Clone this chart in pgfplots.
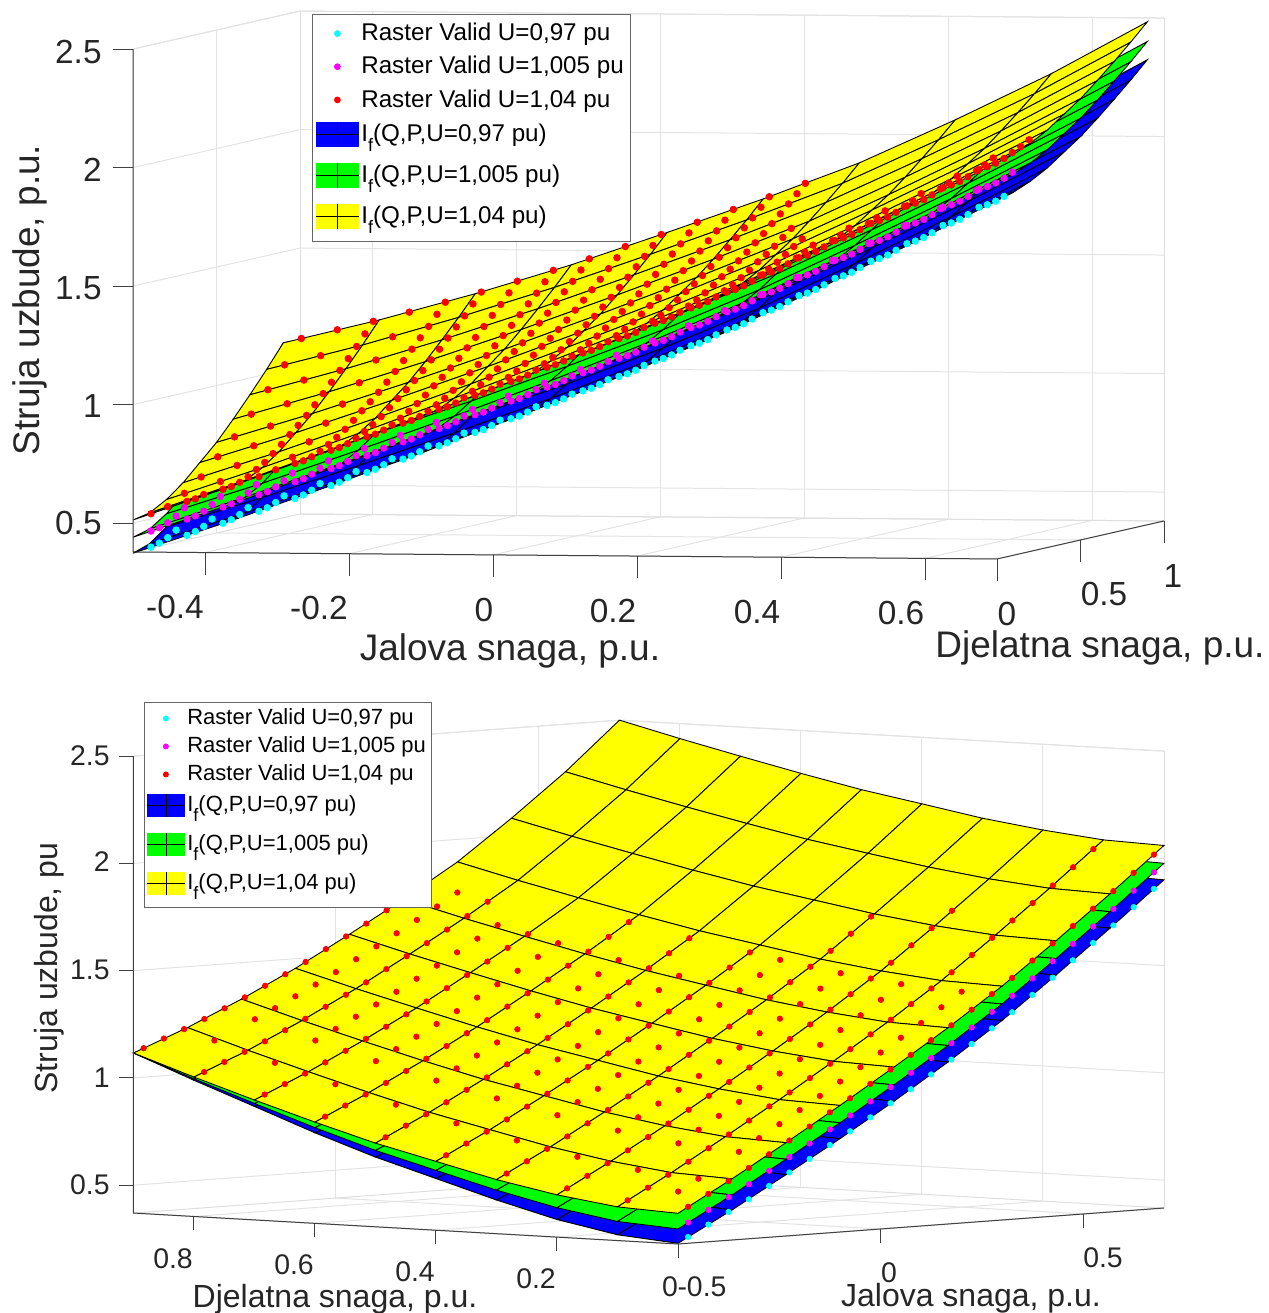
\documentclass[border=0pt]{standalone}
\usepackage{fontspec}
\setmainfont{Liberation Sans}
\usepackage{pgfplots}
\usepackage{pgfplotstable}
\pgfplotsset{compat=1.18}
\definecolor{pcyan}{rgb}{0,1,1}
\definecolor{pmag}{rgb}{1,0,1}
\definecolor{pred}{rgb}{1,0,0}
\definecolor{pblue}{rgb}{0,0,1}
\definecolor{pgreen}{rgb}{0,1,0}
\definecolor{pyel}{rgb}{1,1,0}
\pgfplotstableread{
Q P zb zg zy
-0.5 0 .373 .440 .513
-0.5 .1 .397 .459 .527
-0.5 .2 .452 .507 .567
-0.5 .3 .527 .573 .622
-0.5 .4 .611 .649 .691
-0.5 .5 .695 .726 .760
-0.5 .6 .792 .816 .842
-0.5 .7 .899 .913 .929
-0.5 .8 1.005 1.012 1.020
-0.5 .9 1.116 1.116 1.116
-0.3667 0 .510 .580 .655
-0.3667 .1 .531 .597 .668
-0.3667 .2 .579 .639 .705
-0.3667 .3 .646 .699 .756
-0.3667 .4 .722 .769 .820
-0.3667 .5 .798 .840 .885
-0.3667 .6 .886 .922 .961
-0.3667 .7 .983 1.011 1.042
-0.3667 .8 1.078 1.101 1.126
-0.3667 .9 1.180 1.197 1.216
-0.2333 0 .656 .728 .805
-0.2333 .1 .673 .742 .817
-0.2333 .2 .717 .782 .852
-0.2333 .3 .776 .836 .900
-0.2333 .4 .844 .900 .960
-0.2333 .5 .913 .964 1.020
-0.2333 .6 .992 1.040 1.091
-0.2333 .7 1.079 1.121 1.167
-0.2333 .8 1.167 1.205 1.246
-0.2333 .9 1.259 1.293 1.330
-0.1 0 .805 .879 .960
-0.1 .1 .819 .892 .971
-0.1 .2 .858 .929 1.005
-0.1 .3 .909 .976 1.049
-0.1 .4 .971 1.036 1.106
-0.1 .5 1.033 1.095 1.163
-0.1 .6 1.104 1.164 1.230
-0.1 .7 1.183 1.240 1.302
-0.1 .8 1.262 1.317 1.376
-0.1 .9 1.346 1.398 1.455
0.0333 0 .961 1.037 1.120
0.0333 .1 .973 1.049 1.131
0.0333 .2 1.006 1.081 1.163
0.0333 .3 1.052 1.126 1.206
0.0333 .4 1.107 1.180 1.260
0.0333 .5 1.164 1.236 1.315
0.0333 .6 1.229 1.301 1.379
0.0333 .7 1.301 1.372 1.448
0.0333 .8 1.373 1.443 1.519
0.0333 .9 1.451 1.520 1.595
0.1667 0 1.125 1.202 1.285
0.1667 .1 1.135 1.212 1.295
0.1667 .2 1.166 1.243 1.326
0.1667 .3 1.207 1.284 1.367
0.1667 .4 1.259 1.336 1.419
0.1667 .5 1.312 1.389 1.472
0.1667 .6 1.373 1.450 1.533
0.1667 .7 1.439 1.516 1.599
0.1667 .8 1.507 1.584 1.667
0.1667 .9 1.580 1.657 1.740
0.3 0 1.300 1.377 1.460
0.3 .1 1.310 1.387 1.470
0.3 .2 1.339 1.416 1.499
0.3 .3 1.378 1.455 1.538
0.3 .4 1.428 1.505 1.588
0.3 .5 1.478 1.555 1.638
0.3 .6 1.537 1.614 1.697
0.3 .7 1.600 1.677 1.760
0.3 .8 1.665 1.742 1.825
0.3 .9 1.735 1.812 1.895
0.4333 0 1.493 1.570 1.653
0.4333 .1 1.503 1.580 1.663
0.4333 .2 1.531 1.608 1.691
0.4333 .3 1.570 1.647 1.730
0.4333 .4 1.619 1.696 1.779
0.4333 .5 1.668 1.745 1.828
0.4333 .6 1.726 1.803 1.886
0.4333 .7 1.788 1.865 1.948
0.4333 .8 1.852 1.929 2.012
0.4333 .9 1.920 1.997 2.080
0.5667 0 1.693 1.770 1.853
0.5667 .1 1.703 1.780 1.863
0.5667 .2 1.731 1.808 1.891
0.5667 .3 1.770 1.847 1.930
0.5667 .4 1.818 1.895 1.978
0.5667 .5 1.867 1.944 2.027
0.5667 .6 1.925 2.002 2.085
0.5667 .7 1.986 2.063 2.146
0.5667 .8 2.050 2.127 2.210
0.5667 .9 2.118 2.195 2.278
0.7 0 1.900 1.977 2.060
0.7 .1 1.910 1.987 2.070
0.7 .2 1.940 2.017 2.100
0.7 .3 1.979 2.056 2.139
0.7 .4 2.030 2.107 2.190
0.7 .5 2.080 2.157 2.240
0.7 .6 2.140 2.217 2.300
0.7 .7 2.204 2.281 2.364
0.7 .8 2.270 2.347 2.430
0.7 .9 2.340 2.417 2.500
}\surfdata
\pgfplotstableread{
Q P zb zg
-.475 0 .399 .467
-.475 .05 .408 .473
-.475 .1 .423 .486
-.475 .15 .447 .506
-.475 .2 .477 .533
-.475 .25 .510 .561
-.425 0 .45 .519
-.425 .05 .458 .524
-.425 .1 .472 .536
-.425 .15 .495 .556
-.425 .2 .524 .582
-.425 .25 .556 .61
-.375 0 .502 .571
-.375 .05 .509 .576
-.375 .1 .523 .588
-.375 .15 .544 .606
-.375 .2 .573 .633
-.375 .25 .602 .658
-.325 0 .554 .624
-.325 .05 .561 .629
-.325 .1 .575 .641
-.325 .15 .595 .659
-.325 .2 .622 .683
-.325 .25 .652 .71
-.275 0 .609 .68
-.275 .05 .616 .685
-.275 .1 .628 .696
-.275 .15 .648 .713
-.275 .2 .673 .736
-.275 .25 .701 .761
-.225 0 .665 .737
-.225 .05 .671 .741
-.225 .1 .682 .751
-.225 .15 .70 .767
-.225 .2 .725 .79
-.225 .25 .751 .814
-.175 0 .721 .793
-.175 .05 .727 .798
-.175 .1 .738 .808
-.175 .15 .755 .824
-.175 .2 .779 .846
-.175 .25 .804 .869
-.125 0 .779 .852
-.125 .05 .784 .856
-.125 .1 .794 .866
-.125 .15 .81 .88
-.125 .2 .833 .902
-.125 .25 .857 .924
-.075 0 .836 .91
-.075 .05 .841 .914
-.075 .1 .85 .922
-.075 .15 .866 .938
-.075 .2 .887 .958
-.075 .25 .911 .98
-.025 0 .894 .969
-.025 .05 .898 .972
-.025 .1 .907 .981
-.025 .15 .922 .995
-.025 .2 .943 1.015
-.025 .25 .965 1.036
.025 0 .953 1.028
.025 .05 .956 1.031
.025 .1 .965 1.039
.025 .15 .979 1.052
.025 .2 .999 1.071
.025 .25 1.019 1.09
.075 0 1.011 1.088
.075 .05 1.014 1.091
.075 .1 1.022 1.099
.075 .15 1.034 1.111
.075 .2 1.053 1.13
.075 .25 1.072 1.149
.125 0 1.073 1.15
.125 .05 1.076 1.153
.125 .1 1.084 1.161
.125 .15 1.096 1.173
.125 .2 1.114 1.191
.125 .25 1.133 1.21
.175 0 1.135 1.212
.175 .05 1.138 1.215
.175 .1 1.145 1.222
.175 .15 1.158 1.235
.175 .2 1.176 1.253
.175 .25 1.194 1.271
.225 0 1.201 1.278
.225 .05 1.204 1.281
.225 .1 1.211 1.288
.225 .15 1.223 1.30
.225 .2 1.241 1.318
.225 .25 1.259 1.336
.275 0 1.267 1.344
.275 .05 1.27 1.347
.275 .1 1.277 1.354
.275 .15 1.289 1.366
.275 .2 1.307 1.384
.275 .25 1.324 1.401
.325 0 1.335 1.412
.325 .05 1.338 1.415
.325 .1 1.345 1.422
.325 .15 1.357 1.434
.325 .2 1.374 1.451
.325 .25 1.391 1.468
.375 0 1.409 1.486
.375 .05 1.412 1.489
.375 .1 1.419 1.496
.375 .15 1.431 1.508
.375 .2 1.448 1.525
.375 .25 1.465 1.542
.425 0 1.482 1.559
.425 .05 1.485 1.562
.425 .1 1.492 1.569
.425 .15 1.504 1.581
.425 .2 1.521 1.598
.425 .25 1.538 1.615
.475 0 1.556 1.633
.475 .05 1.559 1.636
.475 .1 1.566 1.643
.475 .15 1.578 1.655
.475 .2 1.595 1.672
.475 .25 1.612 1.689
.525 0 1.63 1.707
.525 .05 1.633 1.71
.525 .1 1.64 1.717
.525 .15 1.652 1.729
.525 .2 1.669 1.746
.525 .25 1.686 1.763
.575 0 1.705 1.782
.575 .05 1.708 1.785
.575 .1 1.715 1.792
.575 .15 1.727 1.804
.575 .2 1.744 1.821
.575 .25 1.761 1.838
.625 0 1.783 1.86
.625 .05 1.786 1.863
.625 .1 1.793 1.87
.625 .15 1.805 1.882
.625 .2 1.822 1.899
.625 .25 1.839 1.916
.675 0 1.861 1.938
.675 .05 1.864 1.941
.675 .1 1.871 1.948
.675 .15 1.883 1.96
.675 .2 1.90 1.977
.675 .25 1.917 1.994
}\rasterlow
\pgfplotstableread{
Q P z
-.475 0 .54
-.475 .1 .554
-.475 .2 .594
-.475 .3 .647
-.475 .4 .716
-.475 .5 .784
-.475 .6 .864
-.475 .7 .951
-.475 .8 1.04
-.475 .9 1.135
-.425 0 .593
-.425 .05 .596
-.425 .1 .606
-.425 .2 .645
-.425 .3 .697
-.425 .4 .764
-.425 .5 .831
-.425 .6 .909
-.425 .7 .993
-.425 .8 1.08
-.425 .9 1.173
-.375 0 .646
-.375 .05 .649
-.375 .1 .659
-.375 .15 .674
-.375 .2 .697
-.375 .25 .719
-.375 .3 .748
-.375 .35 .779
-.375 .4 .812
-.375 .45 .843
-.375 .5 .877
-.375 .55 .914
-.375 .6 .953
-.375 .65 .993
-.375 .7 1.035
-.375 .75 1.077
-.375 .8 1.12
-.375 .85 1.165
-.375 .9 1.21
-.325 0 .70
-.325 .1 .713
-.325 .2 .75
-.325 .3 .799
-.325 .4 .862
-.325 .5 .926
-.325 .6 1.0
-.325 .7 1.08
-.325 .8 1.162
-.325 .9 1.25
-.275 0 .757
-.275 .05 .76
-.275 .1 .769
-.275 .15 .784
-.275 .2 .805
-.275 .25 .827
-.275 .3 .853
-.275 .35 .883
-.275 .4 .915
-.275 .45 .945
-.275 .5 .977
-.275 .55 1.012
-.275 .6 1.049
-.275 .65 1.087
-.275 .7 1.127
-.275 .75 1.167
-.275 .8 1.207
-.275 .85 1.25
-.275 .9 1.293
-.225 0 .814
-.225 .05 .817
-.225 .1 .826
-.225 .15 .84
-.225 .2 .861
-.225 .25 .882
-.225 .3 .908
-.225 .35 .937
-.225 .4 .968
-.225 .45 .997
-.225 .5 1.028
-.225 .55 1.062
-.225 .6 1.099
-.225 .65 1.136
-.225 .7 1.175
-.225 .75 1.214
-.225 .8 1.253
-.225 .85 1.295
-.225 .9 1.337
-.175 0 .872
-.175 .05 .875
-.175 .1 .884
-.175 .15 .898
-.175 .2 .918
-.175 .25 .939
-.175 .3 .964
-.175 .35 .992
-.175 .4 1.023
-.175 .45 1.051
-.175 .5 1.082
-.175 .55 1.115
-.175 .6 1.151
-.175 .65 1.187
-.175 .7 1.225
-.175 .75 1.264
-.175 .8 1.302
-.175 .85 1.343
-.175 .9 1.384
-.125 0 .931
-.125 .05 .934
-.125 .1 .943
-.125 .15 .956
-.125 .2 .976
-.125 .25 .996
-.125 .3 1.021
-.125 .35 1.049
-.125 .4 1.079
-.125 .45 1.106
-.125 .5 1.136
-.125 .55 1.169
-.125 .6 1.204
-.125 .65 1.239
-.125 .7 1.276
-.125 .75 1.314
-.125 .8 1.351
-.125 .85 1.391
-.125 .9 1.431
-.075 0 .99
-.075 .05 .993
-.075 .1 1.001
-.075 .15 1.015
-.075 .2 1.034
-.075 .25 1.054
-.075 .3 1.078
-.075 .35 1.105
-.075 .4 1.135
-.075 .45 1.162
-.075 .5 1.191
-.075 .55 1.223
-.075 .6 1.258
-.075 .65 1.292
-.075 .7 1.329
-.075 .75 1.366
-.075 .8 1.402
-.075 .85 1.442
-.075 .9 1.481
-.025 0 1.05
-.025 .05 1.053
-.025 .1 1.061
-.025 .15 1.074
-.025 .2 1.094
-.025 .25 1.113
-.025 .3 1.137
-.025 .35 1.164
-.025 .4 1.193
-.025 .45 1.219
-.025 .5 1.248
-.025 .55 1.28
-.025 .6 1.314
-.025 .65 1.348
-.025 .7 1.384
-.025 .75 1.42
-.025 .8 1.457
-.025 .85 1.495
-.025 .9 1.534
.025 0 1.11
.025 .05 1.113
.025 .1 1.121
.025 .15 1.134
.025 .2 1.153
.025 .25 1.172
.025 .3 1.196
.025 .35 1.222
.025 .4 1.25
.025 .45 1.277
.025 .5 1.305
.025 .55 1.336
.025 .6 1.369
.025 .65 1.403
.025 .7 1.438
.025 .75 1.474
.025 .8 1.51
.025 .85 1.548
.025 .9 1.586
.075 0 1.171
.075 .05 1.174
.075 .1 1.182
.075 .15 1.194
.075 .2 1.213
.075 .25 1.232
.075 .3 1.255
.075 .35 1.281
.075 .4 1.309
.075 .45 1.335
.075 .5 1.363
.075 .55 1.393
.075 .6 1.426
.075 .65 1.459
.075 .7 1.494
.075 .75 1.529
.075 .8 1.564
.075 .85 1.602
.075 .9 1.639
.125 0 1.233
.125 .05 1.236
.125 .1 1.244
.125 .15 1.256
.125 .2 1.274
.125 .25 1.293
.125 .3 1.316
.125 .35 1.341
.125 .4 1.369
.125 .45 1.394
.125 .5 1.422
.125 .55 1.452
.125 .6 1.484
.125 .65 1.517
.125 .7 1.551
.125 .75 1.586
.125 .8 1.62
.125 .85 1.657
.125 .9 1.694
.175 0 1.295
.175 .05 1.298
.175 .1 1.305
.175 .15 1.318
.175 .2 1.336
.175 .25 1.354
.175 .3 1.377
.175 .35 1.402
.175 .4 1.429
.175 .45 1.454
.175 .5 1.481
.175 .55 1.511
.175 .6 1.542
.175 .65 1.574
.175 .7 1.608
.175 .75 1.642
.175 .8 1.676
.175 .85 1.713
.175 .9 1.749
.225 0 1.361
.225 .05 1.364
.225 .1 1.371
.225 .15 1.383
.225 .2 1.401
.225 .25 1.419
.225 .3 1.441
.225 .35 1.466
.225 .4 1.493
.225 .5 1.544
.225 .6 1.604
.225 .8 1.736
.225 .85 1.771
.225 .9 1.807
.275 0 1.427
.275 .05 1.43
.275 .1 1.437
.275 .15 1.449
.275 .2 1.467
.275 .25 1.484
.275 .3 1.506
.275 .35 1.53
.275 .4 1.557
.275 .5 1.607
.275 .6 1.666
.325 0 1.495
.325 .1 1.505
.325 .2 1.534
.325 .3 1.573
.375 0 1.569
.375 .1 1.579
.375 .2 1.608
.375 .3 1.646
.425 0 1.642
.425 .1 1.652
.425 .2 1.681
.425 .3 1.719
.475 0 1.716
.475 .1 1.726
.475 .2 1.755
.525 0 1.79
.525 .1 1.80
.575 0 1.865
.575 .1 1.875
.625 0 1.943
.625 .1 1.953
.675 0 2.021
.675 .1 2.031
}\redcommon
\pgfplotstableread{
Q P z
.225 .45 1.517
.225 .55 1.573
.225 .65 1.635
.225 .7 1.669
.225 .75 1.702
.275 .45 1.581
.275 .55 1.636
.325 .05 1.498
.325 .15 1.517
.325 .25 1.551
.325 .35 1.597
.325 .4 1.623
.325 .45 1.647
.375 .05 1.572
.375 .15 1.591
.375 .25 1.625
.425 .05 1.645
.425 .15 1.664
.425 .25 1.698
.475 .05 1.719
.475 .15 1.738
.475 .25 1.772
.475 .3 1.793
.525 .05 1.793
.525 .15 1.812
.525 .2 1.829
.525 .25 1.846
.525 .3 1.867
.575 .05 1.868
.575 .15 1.887
.575 .2 1.904
.575 .25 1.921
.575 .3 1.942
.625 .05 1.946
.625 .15 1.965
.625 .2 1.982
.625 .25 1.999
.625 .3 2.02
.675 .05 2.024
.675 .15 2.043
.675 .2 2.06
.675 .25 2.077
.675 .3 2.098
}\redtop
\pgfplotsset{
  cube3/.style={clip=false, axis line style={draw=black!13,line width=.5pt},
    grid=major, grid style={draw=black!11,line width=.5pt},
    major tick length=0pt, xticklabels={}, yticklabels={}, zticklabels={}},
  onecolor/.style={surf, shader=faceted, faceted color=black, line width=.45pt,
    z buffer=sort, mesh/rows=10, mesh/cols=10, mesh/ordering=y varies,
    point meta=0, forget plot,
    colormap={c#1}{color(0)=(#1) color(1)=(#1)}},
}
% legend images: dot (colour, half width, half row height, radius)
\newcommand\legdot[4]{\addlegendimage{legend image code/.code={\path[draw=none,fill=none] (0pt,-#3) rectangle (2*#2,#3); \fill[#1,draw=none] (#2,0pt) circle (#4);}}}
% surface swatch (colour, width, half height, middle, row depth, row height)
\newcommand\legsurf[6]{\addlegendimage{legend image code/.code={\path[draw=none,fill=none] (0pt,-#5) rectangle (#2,#6); \fill[#1,draw=none] (0pt,-#3) rectangle (#2,#3); \draw[black,line width=.4pt] (0pt,0pt)--(#2,0pt) (#4,-#3)--(#4,#3);}}}
\definecolor{txt}{gray}{0.15}
\newcommand\fsub{\raisebox{-.42em}{\fontsize{9pt}{9pt}\selectfont f}}
\begin{document}
\begin{tikzpicture}
\useasboundingbox (0,0) rectangle (634.5pt,656.5pt);
% ---------- upper axes ----------
\begin{axis}[cube3, at={(246.5pt,379.05pt)}, anchor=origin,
  x={(360pt,-2.915pt)}, y={(83.5pt,19pt)}, z={(0pt,118.5pt)},
  xmin=-0.5, xmax=0.7, ymin=0, ymax=1, zmin=0.378, zmax=2.5,
  xtick={-0.4,-0.2,0,0.2,0.4,0.6}, ytick={0,0.5,1}, ztick={0.5,1,1.5,2,2.5},
  legend cell align=left,
  legend style={at={(axis cs:-0.2514,0,2.654)}, anchor=north west, draw=black!60,
    line width=.5pt, font=\fontsize{12.1pt}{14pt}\selectfont, inner xsep=1.5pt, inner ysep=1.2pt,
    row sep=0pt},
]
\legdot{pcyan}{10.75pt}{8.3pt}{1.7pt}\addlegendentry{\kern-1pt Raster Valid U=0,97 pu}
\legdot{pmag}{10.75pt}{8.3pt}{1.7pt}\addlegendentry{\kern-1pt Raster Valid U=1,005 pu}
\legdot{pred}{10.75pt}{8.3pt}{1.7pt}\addlegendentry{\kern-1pt Raster Valid U=1,04 pu}
\legsurf{pblue}{21.5pt}{6.2pt}{10.75pt}{11.4pt}{9pt}\addlegendentry{\kern-1pt I\fsub(Q,P,U=0,97 pu)}
\legsurf{pgreen}{21.5pt}{6.2pt}{10.75pt}{11.4pt}{9pt}\addlegendentry{\kern-1pt I\fsub(Q,P,U=1,005 pu)}
\legsurf{pyel}{21.5pt}{6.2pt}{10.75pt}{11.4pt}{9pt}\addlegendentry{\kern-1pt I\fsub(Q,P,U=1,04 pu)}
\addplot3[onecolor=pblue] table[x=Q,y=P,z=zb]{\surfdata};
\addplot3[only marks,mark=*,mark size=1.65pt,color=pcyan,forget plot,restrict y to domain=0:0.16] table[x=Q,y=P,z=zb]{\rasterlow};
\addplot3[onecolor=pgreen] table[x=Q,y=P,z=zg]{\surfdata};
\addplot3[only marks,mark=*,mark size=1.65pt,color=pmag,forget plot,restrict y to domain=0:0.21] table[x=Q,y=P,z=zg]{\rasterlow};
\addplot3[onecolor=pyel] table[x=Q,y=P,z=zy]{\surfdata};
\addplot3[only marks,mark=*,mark size=1.65pt,color=pred,forget plot] table[x=Q,y=P,z=z]{\redcommon};
\addplot3[only marks,mark=*,mark size=1.65pt,color=pred,forget plot] table[x=Q,y=P,z=z]{\redtop};
\draw[black!75,line width=.5pt] (axis cs:-0.5,0,2.5) -- (axis cs:-0.5,0,0.378) -- (axis cs:0.7,0,0.378) -- (axis cs:0.7,1,0.378);
\pgfplotsinvokeforeach{-0.4,-0.2,0,0.2,0.4,0.6,0.7}{\draw[black!75,line width=.5pt] (axis cs:#1,0,0.378) -- ([yshift=-11pt]axis cs:#1,0,0.378);}
\pgfplotsinvokeforeach{0.5,1}{\draw[black!75,line width=.5pt] (axis cs:0.7,#1,0.378) -- ([yshift=-11pt]axis cs:0.7,#1,0.378);}
\pgfplotsinvokeforeach{0.5,1,1.5,2,2.5}{\draw[black!75,line width=.5pt] (axis cs:-0.5,0,#1) -- ([xshift=-10pt]axis cs:-0.5,0,#1);}
\end{axis}
% ---------- lower axes ----------
\begin{axis}[cube3, at={(440.25pt,42pt)}, anchor=origin,
  x={(202.5pt,15pt)}, y={(-302.5pt,17.2pt)}, z={(0pt,107.25pt)},
  xmin=-0.5, xmax=0.7, ymin=0, ymax=0.9, zmin=0.37, zmax=2.5,
  xtick={-0.5,0,0.5}, ytick={0,0.2,0.4,0.6,0.8}, ztick={0.5,1,1.5,2,2.5},
  legend cell align=left,
  legend style={at={(axis cs:-0.474,0.9,2.749)}, anchor=north west, draw=black!60,
    line width=.5pt, font=\fontsize{11pt}{13pt}\selectfont, inner xsep=1pt, inner ysep=1pt,
    row sep=0pt},
]
\legdot{pcyan}{9.5pt}{7pt}{1.5pt}\addlegendentry{\kern-1pt Raster Valid U=0,97 pu}
\legdot{pmag}{9.5pt}{7pt}{1.5pt}\addlegendentry{\kern-1pt Raster Valid U=1,005 pu}
\legdot{pred}{9.5pt}{7pt}{1.5pt}\addlegendentry{\kern-1pt Raster Valid U=1,04 pu}
\legsurf{pblue}{19pt}{5.7pt}{9.5pt}{11pt}{8.5pt}\addlegendentry{\kern-1pt I\fsub(Q,P,U=0,97 pu)}
\legsurf{pgreen}{19pt}{5.7pt}{9.5pt}{11pt}{8.5pt}\addlegendentry{\kern-1pt I\fsub(Q,P,U=1,005 pu)}
\legsurf{pyel}{19pt}{5.7pt}{9.5pt}{11pt}{8.5pt}\addlegendentry{\kern-1pt I\fsub(Q,P,U=1,04 pu)}
\addplot3[onecolor=pblue] table[x=Q,y=P,z=zb]{\surfdata};
\addplot3[only marks,mark=*,mark size=1.35pt,color=pcyan,forget plot,restrict y to domain=0:0.01] table[x=Q,y=P,z=zb]{\rasterlow};
\addplot3[onecolor=pgreen] table[x=Q,y=P,z=zg]{\surfdata};
\addplot3[only marks,mark=*,mark size=1.35pt,color=pmag,forget plot,restrict y to domain=0:0.01] table[x=Q,y=P,z=zg]{\rasterlow};
\addplot3[onecolor=pyel] table[x=Q,y=P,z=zy]{\surfdata};
\addplot3[only marks,mark=*,mark size=1.35pt,color=pred,forget plot] table[x=Q,y=P,z=z]{\redcommon};
\draw[black!75,line width=.5pt] (axis cs:-0.5,0.9,2.5) -- (axis cs:-0.5,0.9,0.37) -- (axis cs:-0.5,0,0.37) -- (axis cs:0.7,0,0.37);
\pgfplotsinvokeforeach{0.8,0.6,0.4,0.2,0}{\draw[black!75,line width=.5pt] (axis cs:-0.5,#1,0.37) -- ([yshift=-7pt]axis cs:-0.5,#1,0.37);}
\pgfplotsinvokeforeach{0,0.5}{\draw[black!75,line width=.5pt] (axis cs:#1,0,0.37) -- ([yshift=-7pt]axis cs:#1,0,0.37);}
\pgfplotsinvokeforeach{0.5,1,1.5,2,2.5}{\draw[black!75,line width=.5pt] (axis cs:-0.5,0.9,#1) -- ([xshift=-7pt]axis cs:-0.5,0.9,#1);}
\end{axis}
% ---------- texts, placed in reference pixels ----------
\begin{scope}[x=.5pt,y=-.5pt,yshift=656.5pt,every node/.style={text=txt,inner sep=0pt}]
\begin{scope}[every node/.append style={font=\fontsize{16.7pt}{18pt}\selectfont}]
\node[anchor=east] at (102,52) {2.5};
\node[anchor=east] at (102,170) {2};
\node[anchor=east] at (102,288) {1.5};
\node[anchor=east] at (102,406) {1};
\node[anchor=east] at (102,523) {0.5};
\node at (175,607) {-0.4};
\node at (319,608) {-0.2};
\node at (484,610) {0};
\node at (613,611) {0.2};
\node at (757,612) {0.4};
\node at (901,613) {0.6};
\node at (1007,614) {0};
\node at (1104,594) {0.5};
\node at (1173,576) {1};
\end{scope}
\begin{scope}[every node/.append style={font=\fontsize{18.5pt}{20pt}\selectfont}]
\node at (510,651) {Jalova snaga, p.u.};
\node at (1100,648) {Djelatna snaga, p.u.};
\node[rotate=90] at (30,300) {Struja uzbude, p.u.};
\end{scope}
\begin{scope}[every node/.append style={font=\fontsize{14.2pt}{16pt}\selectfont}]
\node[anchor=east] at (110,756) {2.5};
\node[anchor=east] at (110,862) {2};
\node[anchor=east] at (110,970) {1.5};
\node[anchor=east] at (110,1078) {1};
\node[anchor=east] at (110,1185) {0.5};
\node at (173,1259) {0.8};
\node at (294,1265) {0.6};
\node at (415,1272) {0.4};
\node at (536,1279) {0.2};
\node at (670,1287) {0};
\node at (702,1287) {-0.5};
\node at (889,1273) {0};
\node at (1103,1258) {0.5};
\end{scope}
\begin{scope}[every node/.append style={font=\fontsize{16pt}{18pt}\selectfont}]
\node at (971,1298) {Jalova snaga, p.u.};
\node at (335,1299) {Djelatna snaga, p.u.};
\node[rotate=90] at (49,968) {Struja uzbude, pu};
\end{scope}
\end{scope}
\end{tikzpicture}
\end{document}
